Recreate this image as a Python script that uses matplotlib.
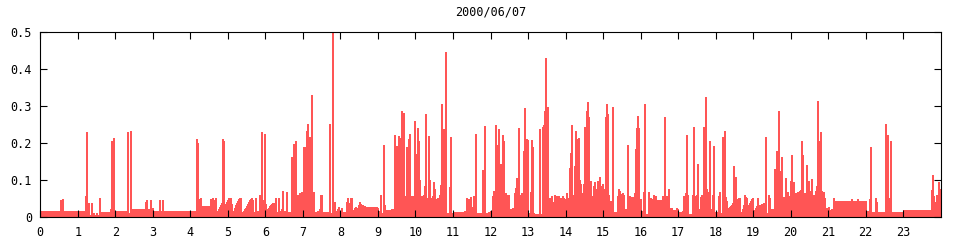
import numpy as np
import matplotlib
matplotlib.use('Agg')
import matplotlib.pyplot as plt

# (minute of day, value) -- each value holds until the next minute entry
night = [(0, 0.045), (1.1, 0.015), (33.1, 0.045), (34.7, 0.015), (36.3, 0.049), (37.9, 0.015),
         (44.3, 0.017), (45.9, 0.015), (49.1, 0.017), (50.7, 0.015), (52.3, 0.017), (60.3, 0.015),
         (71.5, 0.055), (73.1, 0.23), (74.7, 0.006), (76.3, 0.036), (77.9, 0.006), (81.1, 0.038),
         (82.7, 0.006), (84.3, 0.009), (85.9, 0.006), (89.1, 0.009), (90.7, 0.006),
         (93.9, 0.052), (95.5, 0.012), (111.5, 0.02), (113.1, 0.206), (114.7, 0.033), (116.3, 0.214),
         (117.9, 0.008), (119.5, 0.015), (124.3, 0.017), (125.9, 0.015), (129.1, 0.017), (130.7, 0.015),
         (138.7, 0.23), (140.3, 0.009), (143.5, 0.233), (145.1, 0.02),
         (167.5, 0.041), (169.1, 0.045), (170.7, 0.02), (175.5, 0.045), (177.1, 0.023), (180.3, 0.015),
         (189.9, 0.045), (191.5, 0.015), (194.7, 0.045), (196.3, 0.015)]

early = [(249.1, 0.21), (250.7, 0.20), (252.3, 0.048), (256.3, 0.052), (257.1, 0.03), (260.3, 0.029),
         (271.5, 0.047), (273.1, 0.035), (274.7, 0.05), (276.3, 0.045), (279.5, 0.052),
         (281.1, 0.013), (282.7, 0.017), (284.3, 0.022), (285.9, 0.027), (287.5, 0.032), (289.1, 0.037),
         (290.7, 0.21), (292.3, 0.206), (293.9, 0.035), (297.1, 0.04), (298.7, 0.045), (300.3, 0.05),
         (301.9, 0.04), (303.5, 0.052), (305.1, 0.035), (306.7, 0.012), (308.3, 0.017), (309.9, 0.025),
         (311.5, 0.032), (313.1, 0.038), (314.7, 0.043), (316.3, 0.047), (317.9, 0.05),
         (321.1, 0.01), (322.7, 0.012), (324.3, 0.015), (325.9, 0.02), (327.5, 0.025), (329.1, 0.03),
         (330.7, 0.035), (332.3, 0.04), (333.9, 0.045), (335.5, 0.048), (337.1, 0.05), (338.7, 0.045),
         (340.3, 0.012), (343.5, 0.052), (345.1, 0.012), (346.7, 0.015), (349.9, 0.06), (351.5, 0.015),
         (353.1, 0.228), (354.7, 0.045), (356.3, 0.04), (357.9, 0.225), (359.5, 0.035), (361.1, 0.02),
         (364.3, 0.025), (365.9, 0.028), (367.5, 0.032), (369.1, 0.035), (370.7, 0.036),
         (375.5, 0.052), (377.1, 0.012), (380.3, 0.052), (381.9, 0.015), (385.1, 0.02), (386.7, 0.069),
         (388.3, 0.015), (393.1, 0.066), (394.7, 0.012), (401.1, 0.161), (402.7, 0.012), (404.3, 0.198),
         (405.9, 0.052), (407.5, 0.204), (409.1, 0.012), (410.7, 0.06), (412.3, 0.055), (413.9, 0.065),
         (415.5, 0.012), (417.1, 0.066), (420.3, 0.19), (425.1, 0.233), (426.7, 0.25), (428.3, 0.067),
         (429.9, 0.217), (431.5, 0.067), (433.1, 0.33), (434.7, 0.067), (437.9, 0.013), (442.7, 0.017),
         (445.9, 0.02), (447.5, 0.06), (450.7, 0.012), (460.3, 0.01), (461.9, 0.252), (463.5, 0.01),
         (466.7, 0.5), (468.3, 0.04), (471.5, 0.01), (473.1, 0.017), (474.7, 0.022)]

morning = [(476.3, 0.026), (477.9, 0.009), (481.1, 0.024), (482.7, 0.014), (489.1, 0.04), (490.7, 0.052),
           (492.3, 0.036), (495.5, 0.052), (498.7, 0.009), (500.3, 0.018), (501.9, 0.025), (503.5, 0.027),
           (505.1, 0.019), (506.7, 0.025), (508.3, 0.032), (509.9, 0.04), (511.5, 0.035), (513.1, 0.031),
           (516.3, 0.028), (519.5, 0.025), (521.1, 0.026), (538.7, 0.024), (540.3, 0.015), (543.5, 0.059),
           (545.1, 0.009), (546.7, 0.006), (548.3, 0.193), (549.9, 0.033), (551.5, 0.019), (561.1, 0.022),
           (564.3, 0.019), (565.9, 0.22), (567.5, 0.06), (569.1, 0.191), (570.7, 0.056), (572.3, 0.218),
           (573.9, 0.067), (575.5, 0.213), (577.1, 0.287), (578.7, 0.21), (580.3, 0.28), (581.9, 0.057),
           (585.1, 0.189), (586.7, 0.119), (588.3, 0.209), (589.9, 0.225), (591.5, 0.051), (593.1, 0.057),
           (596.3, 0.045), (597.9, 0.258), (599.5, 0.051), (601.1, 0.171), (602.7, 0.241), (604.3, 0.204),
           (605.9, 0.1), (607.5, 0.056), (609.1, 0.043), (610.7, 0.056), (612.3, 0.06), (613.9, 0.083),
           (615.5, 0.277), (617.1, 0.051), (618.7, 0.041), (620.3, 0.218), (621.9, 0.1), (623.5, 0.051),
           (625.1, 0.043), (626.7, 0.056), (628.3, 0.094), (629.9, 0.074), (631.5, 0.047), (633.1, 0.044),
           (634.7, 0.051), (636.3, 0.047), (637.9, 0.058), (639.5, 0.085), (641.1, 0.304), (642.7, 0.011),
           (644.3, 0.236), (645.9, 0.074), (647.5, 0.445), (649.1, 0.009), (653.9, 0.08), (655.5, 0.217),
           (657.1, 0.009), (660.3, 0.014), (677.9, 0.016), (681.1, 0.052), (682.7, 0.047), (685.9, 0.044),
           (687.5, 0.053), (689.1, 0.027), (690.7, 0.011), (692.3, 0.057), (693.9, 0.025), (695.5, 0.225),
           (697.1, 0.009), (706.7, 0.126), (708.3, 0.009), (709.9, 0.245), (711.5, 0.011), (716.3, 0.014),
           (719.5, 0.017), (721.1, 0.014)]

midday = [(722.7, 0.055), (724.3, 0.069), (725.9, 0.063), (727.5, 0.247), (729.1, 0.173), (730.7, 0.194),
          (732.3, 0.236), (733.9, 0.057), (735.5, 0.142), (737.1, 0.134), (738.7, 0.222), (740.3, 0.204),
          (741.9, 0.012), (743.5, 0.063), (745.1, 0.056), (746.7, 0.06), (749.9, 0.021), (754.7, 0.023),
          (757.9, 0.065), (759.5, 0.078), (761.1, 0.105), (762.7, 0.06), (764.3, 0.239), (765.9, 0.005),
          (767.5, 0.06), (769.1, 0.063), (770.7, 0.06), (772.3, 0.177), (773.9, 0.294), (775.5, 0.18),
          (777.1, 0.21), (778.7, 0.207), (780.3, 0.01), (781.9, 0.006), (783.5, 0.066), (785.1, 0.207),
          (786.7, 0.19), (788.3, 0.01), (789.9, 0.008), (797.9, 0.236), (799.5, 0.008), (802.7, 0.242),
          (804.3, 0.247), (805.9, 0.286), (807.5, 0.43), (809.1, 0.206), (810.7, 0.296), (812.3, 0.03),
          (813.9, 0.051), (815.5, 0.047), (817.1, 0.056), (818.7, 0.03), (820.3, 0.04), (821.9, 0.06),
          (823.5, 0.045), (825.1, 0.055), (826.7, 0.045), (828.3, 0.055), (829.9, 0.05), (831.5, 0.045),
          (833.1, 0.05), (834.7, 0.055), (836.3, 0.05), (837.9, 0.045), (839.5, 0.048), (841.1, 0.065),
          (842.7, 0.05), (844.3, 0.045), (845.9, 0.131), (847.5, 0.173), (849.1, 0.247), (850.7, 0.06),
          (852.3, 0.05), (853.9, 0.138), (855.5, 0.232), (857.1, 0.092), (858.7, 0.209), (860.3, 0.213),
          (861.9, 0.1), (863.5, 0.09), (865.1, 0.063), (868.3, 0.088), (869.9, 0.243), (871.5, 0.063),
          (873.1, 0.285), (874.7, 0.31), (876.3, 0.27), (877.9, 0.092), (879.5, 0.096), (881.1, 0.056),
          (884.3, 0.083), (885.9, 0.095), (887.5, 0.074), (889.1, 0.06), (890.7, 0.096), (892.3, 0.074),
          (893.9, 0.107), (895.5, 0.083), (897.1, 0.069), (898.7, 0.088), (900.3, 0.074), (901.9, 0.06),
          (903.5, 0.27), (905.1, 0.306), (906.7, 0.277), (908.3, 0.06), (909.9, 0.043), (914.7, 0.296),
          (916.3, 0.013), (922.7, 0.057), (924.3, 0.074), (925.9, 0.071), (927.5, 0.062), (930.7, 0.065),
          (932.3, 0.06), (933.9, 0.022), (938.7, 0.195), (940.3, 0.036), (941.9, 0.057), (943.5, 0.053),
          (949.9, 0.065), (951.5, 0.182), (953.1, 0.24), (954.7, 0.272), (956.3, 0.24), (957.9, 0.047)]

afternoon = [(961.1, 0.015), (964.3, 0.067), (965.9, 0.306), (967.5, 0.008), (972.3, 0.067), (973.9, 0.015),
             (975.5, 0.052), (977.1, 0.015), (978.7, 0.048), (980.3, 0.058), (981.9, 0.043), (983.5, 0.055),
             (985.1, 0.045), (994.7, 0.055), (996.3, 0.01), (997.9, 0.271), (999.5, 0.02), (1001.1, 0.055),
             (1002.7, 0.044), (1004.3, 0.074), (1005.9, 0.024), (1010.7, 0.019), (1017.1, 0.024),
             (1018.7, 0.021), (1020.3, 0.014), (1026.7, 0.017), (1028.3, 0.055), (1029.9, 0.047),
             (1031.5, 0.063), (1033.1, 0.222), (1034.7, 0.06), (1036.3, 0.008), (1042.7, 0.06),
             (1044.3, 0.244), (1045.9, 0.042), (1047.5, 0.055), (1049.1, 0.06), (1050.7, 0.144),
             (1052.3, 0.021), (1055.5, 0.053), (1057.1, 0.058), (1058.7, 0.044), (1060.3, 0.244),
             (1061.9, 0.177), (1063.5, 0.323), (1065.1, 0.074), (1066.7, 0.065), (1068.3, 0.067),
             (1069.9, 0.204), (1071.5, 0.02), (1074.7, 0.058), (1076.3, 0.191), (1077.9, 0.008),
             (1079.5, 0.014), (1084.3, 0.055), (1085.9, 0.067), (1087.5, 0.01), (1090.7, 0.217),
             (1092.3, 0.055), (1093.9, 0.231), (1095.5, 0.053), (1097.1, 0.042), (1098.7, 0.024),
             (1101.9, 0.027), (1103.5, 0.03), (1105.1, 0.033), (1106.7, 0.036), (1108.3, 0.137),
             (1109.9, 0.095), (1111.5, 0.107), (1113.1, 0.045), (1114.7, 0.049), (1116.3, 0.052),
             (1119.5, 0.009), (1121.1, 0.013), (1122.7, 0.022), (1124.3, 0.031), (1125.9, 0.058),
             (1127.5, 0.053), (1129.1, 0.05), (1130.7, 0.029), (1132.3, 0.032), (1133.9, 0.038),
             (1135.5, 0.042), (1137.1, 0.048), (1138.7, 0.05), (1140.3, 0.014), (1141.9, 0.019),
             (1143.5, 0.025), (1145.1, 0.029), (1146.7, 0.052), (1148.3, 0.027), (1149.9, 0.031),
             (1153.1, 0.034), (1156.3, 0.037), (1159.5, 0.215), (1161.1, 0.009), (1164.3, 0.058),
             (1165.9, 0.052), (1167.5, 0.019), (1169.1, 0.022)]

evening = [(1173.9, 0.128), (1175.5, 0.087), (1177.1, 0.179), (1178.7, 0.047), (1180.3, 0.285),
           (1181.9, 0.125), (1183.5, 0.054), (1185.1, 0.161), (1186.7, 0.054), (1188.3, 0.05),
           (1189.9, 0.054), (1191.5, 0.106), (1193.1, 0.054), (1194.7, 0.068), (1196.3, 0.056),
           (1199.5, 0.096), (1201.1, 0.166), (1202.7, 0.056), (1204.3, 0.093), (1205.9, 0.056),
           (1207.5, 0.063), (1209.1, 0.053), (1210.7, 0.068), (1212.3, 0.055), (1213.9, 0.069),
           (1215.5, 0.072), (1217.1, 0.204), (1218.7, 0.166), (1220.3, 0.06), (1221.9, 0.065),
           (1223.5, 0.058), (1225.1, 0.14), (1226.7, 0.056), (1228.3, 0.098), (1229.9, 0.07),
           (1233.1, 0.101), (1234.7, 0.051), (1236.3, 0.06), (1239.5, 0.069), (1241.1, 0.082),
           (1242.7, 0.313), (1244.3, 0.076), (1245.9, 0.206), (1247.5, 0.228), (1249.1, 0.069),
           (1250.7, 0.065), (1252.3, 0.067), (1253.9, 0.05), (1255.5, 0.022), (1257.1, 0.025),
           (1258.7, 0.022), (1260.3, 0.027), (1261.9, 0.019), (1265.1, 0.021), (1266.7, 0.017),
           (1268.3, 0.052), (1269.9, 0.044), (1297.1, 0.047), (1298.7, 0.044), (1306.7, 0.047),
           (1308.3, 0.044), (1321.1, 0.017), (1325.9, 0.047), (1327.5, 0.188), (1329.1, 0.013),
           (1335.5, 0.05), (1337.1, 0.04), (1338.7, 0.013), (1351.5, 0.252), (1353.1, 0.056),
           (1354.7, 0.22), (1356.3, 0.047), (1357.9, 0.051), (1359.5, 0.206), (1361.1, 0.013),
           (1380.3, 0.018), (1425.1, 0.072), (1426.7, 0.114), (1428.3, 0.056), (1429.9, 0.031),
           (1431.5, 0.04), (1433.1, 0.058), (1434.7, 0.05), (1436.3, 0.093), (1437.9, 0.074),
           (1439.5, 0.033)]

title = '2000/06/07'
hour_ticks = list(range(24))
y_ticks = [0, 0.1, 0.2, 0.3, 0.4, 0.5]
y_labels = ['0', '0.1', '0.2', '0.3', '0.4', '0.5']

steps = night + early + morning + midday + afternoon + evening
minutes = np.array([s[0] for s in steps] + [1440.0])
values = np.array([s[1] for s in steps])

fig = plt.figure(figsize=(9.6, 2.4), dpi=100)
ax = fig.add_axes([40.3 / 960, 22.7 / 240, 900.4 / 960, 185 / 240])

ax.stairs(values, minutes / 60.0, fill=True, color='#ff5555', linewidth=0,
          antialiased=False)

ax.set_xlim(0, 24)
ax.set_ylim(0, 0.5)
ax.set_xticks(hour_ticks)
ax.set_xticklabels([str(h) for h in hour_ticks])
ax.set_yticks(y_ticks)
ax.set_yticklabels(y_labels)

mono = 'DejaVu Sans Mono'
for lab in ax.get_xticklabels() + ax.get_yticklabels():
    lab.set_family(mono)
    lab.set_fontsize(8.5)

ax.tick_params(direction='in', length=5, width=0.8, top=True, right=True, color='black')
ax.tick_params(axis='x', pad=6)
ax.tick_params(axis='y', pad=6)
for sp in ax.spines.values():
    sp.set_linewidth(0.8)
    sp.set_color('black')

ax.set_title(title, fontsize=8.5, family=mono, pad=12)

fig.savefig('out.png', dpi=100)
